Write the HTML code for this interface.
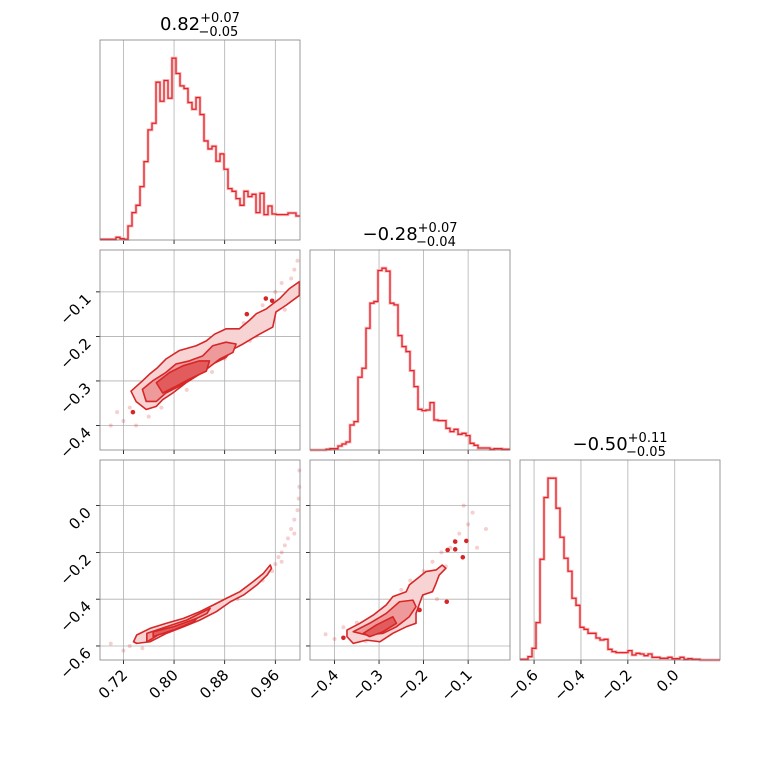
<!DOCTYPE html>
<html><head><meta charset="utf-8">
<style>
html,body{margin:0;padding:0;background:#fff;}
svg{display:block;font-family:"DejaVu Sans","Liberation Sans",sans-serif;}
</style></head>
<body>
<svg id="fig" width="760" height="760" viewBox="0 0 760 760" xmlns="http://www.w3.org/2000/svg">
<rect width="760" height="760" fill="#fff"/>
</svg>
<script>
// ---- data ----
const hist1Counts=[2,2,2,2,8,4,2,42,82,104,160,235,330,350,473,416,478,425,545,499,462,454,412,392,427,376,297,273,281,236,258,212,154,146,124,104,146,130,137,82,140,76,102,78,76,76,76,81,81,72];
const hist2Counts=[0,0,0,0,2,4,4,12,18,24,75,85,218,245,365,440,445,538,545,536,440,435,343,310,295,238,190,122,118,120,142,90,88,88,65,55,62,47,50,43,20,14,6,6,6,2,4,4,2,2];
const hist3Counts=[2,2,10,35,112,302,487,545,545,455,368,305,266,185,164,98,92,80,80,66,60,62,32,25,22,22,22,28,15,20,18,13,18,8,8,5,5,8,4,4,8,2,4,2,2,0,0,0,0,0];
const range1=[0.683,0.999], range2=[-0.455,-0.006], range3=[-0.66,0.193];
const range3y=[-0.660,0.195];
const ticks1=[0.72,0.80,0.88,0.96], tickLabels1=["0.72","0.80","0.88","0.96"];
const ticks2=[-0.4,-0.3,-0.2,-0.1], tickLabels2=["\u22120.4","\u22120.3","\u22120.2","\u22120.1"];
const ticks3=[-0.6,-0.4,-0.2,0.0], tickLabels3=["\u22120.6","\u22120.4","\u22120.2","0.0"];
const titles=[["0.82","+0.07","\u22120.05"],["\u22120.28","+0.07","\u22120.04"],["\u22120.50","+0.11","\u22120.05"]];
const c21Outer=[[0.732,-0.323],[0.750,-0.300],[0.761,-0.285],[0.774,-0.270],[0.787,-0.251],[0.808,-0.232],[0.835,-0.221],[0.851,-0.210],[0.864,-0.195],[0.882,-0.183],[0.903,-0.183],[0.919,-0.164],[0.930,-0.149],[0.946,-0.138],[0.967,-0.115],[0.982,-0.093],[0.998,-0.077],[0.998,-0.108],[0.977,-0.130],[0.961,-0.145],[0.956,-0.179],[0.935,-0.195],[0.909,-0.217],[0.893,-0.229],[0.882,-0.247],[0.861,-0.262],[0.840,-0.285],[0.819,-0.304],[0.798,-0.327],[0.782,-0.342],[0.772,-0.357],[0.756,-0.364],[0.740,-0.346]];
const c21Mid=[[0.750,-0.319],[0.766,-0.300],[0.787,-0.281],[0.803,-0.262],[0.824,-0.255],[0.845,-0.244],[0.861,-0.221],[0.882,-0.213],[0.898,-0.217],[0.893,-0.236],[0.872,-0.251],[0.851,-0.274],[0.830,-0.293],[0.808,-0.312],[0.787,-0.327],[0.772,-0.346],[0.756,-0.346]];
const c21Inner=[[0.772,-0.304],[0.793,-0.281],[0.814,-0.266],[0.840,-0.255],[0.856,-0.255],[0.851,-0.278],[0.824,-0.296],[0.803,-0.312],[0.782,-0.327]];
const c31Outer=[[0.736,-0.582],[0.741,-0.553],[0.762,-0.525],[0.788,-0.503],[0.815,-0.482],[0.841,-0.453],[0.862,-0.425],[0.883,-0.396],[0.904,-0.368],[0.925,-0.325],[0.941,-0.290],[0.952,-0.254],[0.954,-0.268],[0.947,-0.297],[0.931,-0.339],[0.910,-0.382],[0.889,-0.411],[0.867,-0.453],[0.841,-0.489],[0.815,-0.518],[0.788,-0.546],[0.762,-0.582],[0.741,-0.589]];
const c31Mid=[[0.757,-0.546],[0.788,-0.518],[0.820,-0.489],[0.857,-0.439],[0.852,-0.461],[0.820,-0.503],[0.788,-0.532],[0.757,-0.582]];
const c31Inner=[[0.767,-0.539],[0.799,-0.518],[0.836,-0.482],[0.831,-0.496],[0.799,-0.532],[0.767,-0.560]];
const c32Outer=[[-0.372,-0.560],[-0.372,-0.532],[-0.343,-0.503],[-0.313,-0.468],[-0.284,-0.425],[-0.269,-0.389],[-0.239,-0.368],[-0.232,-0.339],[-0.209,-0.304],[-0.195,-0.282],[-0.172,-0.275],[-0.158,-0.254],[-0.150,-0.268],[-0.165,-0.297],[-0.172,-0.332],[-0.180,-0.368],[-0.202,-0.382],[-0.209,-0.418],[-0.217,-0.461],[-0.217,-0.503],[-0.239,-0.518],[-0.269,-0.546],[-0.298,-0.582],[-0.328,-0.575],[-0.358,-0.589]];
const c32Mid=[[-0.358,-0.539],[-0.321,-0.503],[-0.284,-0.461],[-0.254,-0.411],[-0.224,-0.404],[-0.217,-0.432],[-0.232,-0.475],[-0.261,-0.518],[-0.291,-0.546],[-0.328,-0.553]];
const c32Inner=[[-0.335,-0.546],[-0.306,-0.510],[-0.269,-0.475],[-0.261,-0.503],[-0.291,-0.539],[-0.321,-0.560]];
const pts21=[[0.70,-0.40],[0.71,-0.37],[0.72,-0.39],[0.73,-0.36],[0.74,-0.40],[0.76,-0.38],[0.77,-0.30],[0.78,-0.36],[0.80,-0.26],[0.82,-0.32],[0.84,-0.24],[0.86,-0.28],[0.87,-0.20],[0.89,-0.22],[0.91,-0.17],[0.93,-0.20],[0.94,-0.13],[0.95,-0.17],[0.97,-0.08],[0.98,-0.12],[0.99,-0.05],[0.995,-0.03],[0.75,-0.33],[0.79,-0.29],[0.83,-0.27],[0.88,-0.25],[0.92,-0.21],[0.96,-0.10],[0.985,-0.07],[0.975,-0.14]];
const pts31=[[0.70,-0.59],[0.72,-0.62],[0.73,-0.60],[0.75,-0.61],[0.78,-0.53],[0.82,-0.50],[0.86,-0.45],[0.90,-0.40],[0.94,-0.32],[0.955,-0.28],[0.96,-0.25],[0.965,-0.22],[0.97,-0.20],[0.975,-0.17],[0.98,-0.14],[0.985,-0.10],[0.99,-0.06],[0.995,-0.02],[0.997,0.03],[0.998,0.08],[0.998,0.15],[0.99,-0.12],[0.97,-0.24]];
const pts32=[[-0.42,-0.55],[-0.40,-0.57],[-0.38,-0.52],[-0.35,-0.50],[-0.33,-0.58],[-0.30,-0.46],[-0.27,-0.43],[-0.25,-0.36],[-0.23,-0.32],[-0.20,-0.28],[-0.18,-0.24],[-0.16,-0.20],[-0.14,-0.18],[-0.12,-0.12],[-0.10,-0.08],[-0.09,-0.03],[-0.11,0.00],[-0.13,-0.15],[-0.15,-0.26],[-0.19,-0.33],[-0.08,-0.18],[-0.06,-0.10],[-0.28,-0.55],[-0.22,-0.50],[-0.17,-0.40]];
const dots21=[[0.915,-0.150],[0.945,-0.115],[0.955,-0.120],[0.735,-0.37]];
const dots32=[[-0.129,-0.154],[-0.104,-0.151],[-0.146,-0.190],[-0.129,-0.187],[-0.112,-0.221],[-0.148,-0.411],[-0.209,-0.446],[-0.380,-0.565]];

// ---- drawing ----
const NS="http://www.w3.org/2000/svg";
const svg=document.getElementById('fig');
const RED="#d62728", HRED="#e8222a";
function el(tag,attrs,parent){const e=document.createElementNS(NS,tag);for(const k in attrs)e.setAttribute(k,attrs[k]);(parent||svg).appendChild(e);return e;}
const colX=[100,310,520], rowY=[40,250,460], S=200;
const ranges=[range1,range2,range3], yRanges=[range1,range2,range3y], ticks=[ticks1,ticks2,ticks3], tickLabels=[tickLabels1,tickLabels2,tickLabels3];
function sx(col,v){const r=ranges[col];return colX[col]+(v-r[0])/(r[1]-r[0])*S;}
function sy(row,v){const r=yRanges[row];return rowY[row]+S-(v-r[0])/(r[1]-r[0])*S;}

function frame(row,col,hgrid){
  const g=el('g',{});
  
  
  ticks[col].forEach(t=>{const x=sx(col,t);el('line',{x1:x,x2:x,y1:rowY[row],y2:rowY[row]+S,stroke:'#b0b0b0','stroke-width':0.8},g);
    el('line',{x1:x,x2:x,y1:rowY[row]+S,y2:rowY[row]+S+4,stroke:'#000','stroke-width':0.8},g);});
  if(hgrid){ticks[row].forEach(t=>{const y=sy(row,t);el('line',{x1:colX[col],x2:colX[col]+S,y1:y,y2:y,stroke:'#b0b0b0','stroke-width':0.8},g);
    el('line',{x1:colX[col]-4,x2:colX[col],y1:y,y2:y,stroke:'#000','stroke-width':0.8},g);});}
  return g;
}
function border(row,col){const b=el('rect',{x:colX[col],y:rowY[row],width:S,height:S,fill:'none',stroke:'#808080','stroke-width':0.8});
  
  }

function hist(k,counts){
  const g=frame(k,k,false);
  const r=ranges[k], n=counts.length, w=(r[1]-r[0])/n;
  const mx=Math.max(...counts)*1.1;
  const yb=rowY[k]+S;
  const hy=c=>yb-c/mx*S;
  let d='M'+sx(k,r[0])+','+hy(counts[0]);
  counts.forEach((c,i)=>{d+=' H'+sx(k,r[0]+(i+1)*w);if(i<n-1)d+=' V'+hy(counts[i+1]);});
  el('path',{d:d,fill:'none',stroke:'#f4c0c0','stroke-width':3},g);
  const p=el('path',{d:d,fill:'none',stroke:HRED,'stroke-width':1.3},g);
  
  
  border(k,k);
}
function poly(row,col,pts,fill,g){
  const d='M'+pts.map(p=>sx(col,p[0])+','+sy(row,p[1])).join(' L')+' Z';
  return el('path',{d:d,fill:fill,stroke:RED,'stroke-width':1.6,'stroke-linejoin':'round'},g);
}
function twoD(row,col,pts,outer,mid,inner,dots){
  const g=frame(row,col,true);
  pts.forEach(p=>{const c=el('circle',{cx:sx(col,p[0]),cy:sy(row,p[1]),r:2.0,fill:RED,'fill-opacity':0.22},g);
    
    });
  const o=poly(row,col,outer,'#f7d3d3',g);
  
  
  const m=poly(row,col,mid,'#ef9a9a',g);
  
  
  const i=poly(row,col,inner,'#e25c5d',g);
  
  
  (dots||[]).forEach(p=>{const c=el('circle',{cx:sx(col,p[0]),cy:sy(row,p[1]),r:2.3,fill:RED},g);
    
    });
  border(row,col);
}
hist(0,hist1Counts);hist(1,hist2Counts);hist(2,hist3Counts);
twoD(1,0,pts21,c21Outer,c21Mid,c21Inner,dots21);
twoD(2,0,pts31,c31Outer,c31Mid,c31Inner,[]);
twoD(2,1,pts32,c32Outer,c32Mid,c32Inner,dots32);

for(let c=0;c<3;c++){ticks[c].forEach((t,i)=>{const x=sx(c,t),y=rowY[2]+S+8;
  const tx=el('text',{x:x+5,y:y+8,'font-size':15,'text-anchor':'end',transform:'rotate(-45 '+(x+5)+' '+(y+8)+')'});
  tx.textContent=tickLabels[c][i];
  
  });}
for(let r=1;r<3;r++){ticks[r].forEach((t,i)=>{const y=sy(r,t),x=colX[0]-8;
  const tx=el('text',{x:x,y:y+8,'font-size':15,'text-anchor':'end',transform:'rotate(-45 '+x+' '+(y+8)+')'});
  tx.textContent=tickLabels[r][i];
  
  });}
titles.forEach((t,k)=>{const cx=colX[k]+S/2, y=rowY[k]-10;
  const tx=el('text',{x:cx,y:y,'font-size':18,'text-anchor':'middle'});
  
  
  const a=el('tspan',{},tx);a.textContent=t[0];
  const b=el('tspan',{'font-size':13,dy:-8},tx);b.textContent=t[1];
  const c=el('tspan',{'font-size':13,dy:14,dx:-(t[1].length*8.3)},tx);c.textContent=t[2];
});
</script>
</body></html>
